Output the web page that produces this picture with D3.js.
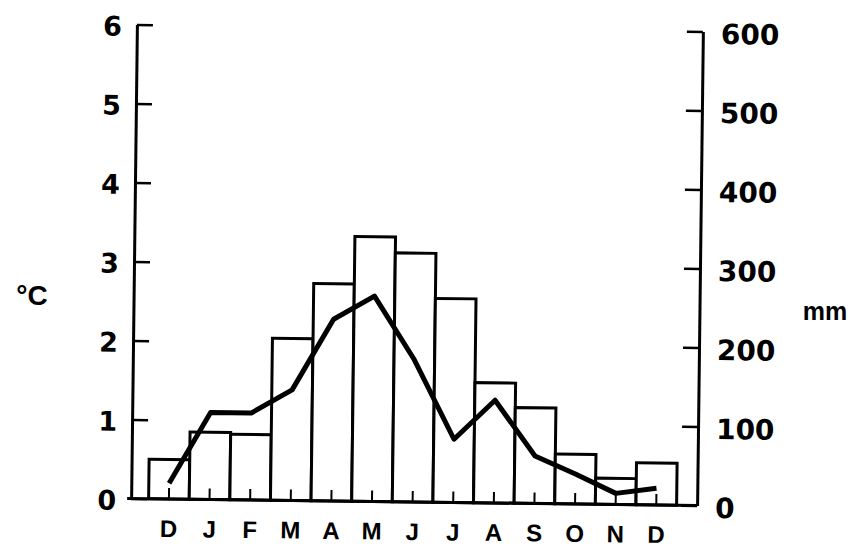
<!DOCTYPE html>
<html>
<head>
<meta charset="utf-8">
<script src="https://cdn.jsdelivr.net/npm/d3@7"></script>
<style>
  html, body { margin: 0; padding: 0; background: #fff; }
  svg { display: block; }
  text { font-weight: bold; fill: #000; }
</style>
</head>
<body>
<svg id="chart" width="855" height="554"></svg>
<script>
// ---- data ----
const months = ["D", "J", "F", "M", "A", "M", "J", "J", "A", "S", "O", "N", "D"];
const precipitation = [50, 85, 83, 205, 275, 335, 315, 258, 152, 121, 63, 33, 53];          // mm (bars)
const temperature = [0.2, 1.1, 1.1, 1.4, 2.3, 2.6, 1.8, 0.8, 1.3, 0.6, 0.38, 0.14, 0.21];   // °C (line)
const tempTicks = [0, 1, 2, 3, 4, 5, 6];
const precipTicks = [0, 100, 200, 300, 400, 500, 600];
const tempUnit = "°C";
const precipUnit = "mm";

// ---- layout ----
const svg = d3.select("#chart");
const L = 134, R = 700, B = 502, T = 28;
const barLeft = 151.5, barRight = 679.5;
const numFont = "'DejaVu Sans', Verdana, sans-serif";
const txtFont = "'Liberation Sans', Arial, sans-serif";

// the scanned original is slightly rotated
const g = svg.append("g").attr("transform", "rotate(0.7, 418, 265)");

const x = d3.scaleBand().domain(d3.range(months.length)).range([barLeft, barRight]).padding(0);
const yT = d3.scaleLinear().domain([0, 6]).range([B, T]);
const yP = d3.scaleLinear().domain([0, 600]).range([B, T]);

// bars
g.append("g").selectAll("rect")
  .data(precipitation)
  .join("rect")
  .attr("x", (d, i) => x(i))
  .attr("width", x.bandwidth())
  .attr("y", d => yP(d))
  .attr("height", d => yP(0) - yP(d))
  .attr("fill", "#fff")
  .attr("stroke", "#000")
  .attr("stroke-width", 3);

// x axis: small upward ticks at month centres + labels
const xAxis = d3.axisBottom(x)
  .tickFormat(i => months[i])
  .tickSize(-11)
  .tickSizeOuter(0)
  .tickPadding(21);
const gx = g.append("g").attr("transform", `translate(0,${B})`).call(xAxis);
gx.select(".domain").remove();
gx.selectAll(".tick line").attr("stroke", "#000").attr("stroke-width", 2);
gx.selectAll(".tick text").style("font-size", "24px").style("font-weight", "bold")
  .style("font-family", txtFont);

// baseline
g.append("line")
  .attr("x1", L - 4).attr("x2", R)
  .attr("y1", B).attr("y2", B)
  .attr("stroke", "#000").attr("stroke-width", 3);

// temperature line
const line = d3.line()
  .x((d, i) => x(i) + x.bandwidth() / 2)
  .y(d => yT(d));
g.append("path")
  .datum(temperature)
  .attr("d", line)
  .attr("fill", "none")
  .attr("stroke", "#000")
  .attr("stroke-width", 5)
  .attr("stroke-linejoin", "round");

// left axis (°C)
const leftAxis = d3.axisLeft(yT).tickValues(tempTicks).tickFormat(d3.format("d"))
  .tickSize(-16).tickSizeOuter(0).tickPadding(15);
const gl = g.append("g").attr("transform", `translate(${L},0)`).call(leftAxis);
gl.select(".domain").attr("stroke", "#000").attr("stroke-width", 3);
gl.selectAll(".tick line").attr("stroke", "#000").attr("stroke-width", 2.5);
gl.selectAll(".tick text").style("font-size", "27px").style("font-weight", "bold")
  .style("font-family", numFont).attr("dy", "0.4em");

// right axis (mm)
const rightAxis = d3.axisRight(yP).tickValues(precipTicks).tickFormat(d3.format("d"))
  .tickSize(-16).tickSizeOuter(0).tickPadding(18);
const gr = g.append("g").attr("transform", `translate(${R},0)`).call(rightAxis);
gr.select(".domain").attr("stroke", "#000").attr("stroke-width", 3);
gr.selectAll(".tick line").attr("stroke", "#000").attr("stroke-width", 2.5);
gr.selectAll(".tick text").style("font-size", "28px").style("font-weight", "bold")
  .style("font-family", numFont).attr("dy", "0.42em");

// unit labels
svg.append("text").attr("x", 32).attr("y", 305).attr("text-anchor", "middle")
  .style("font-size", "28px").style("font-family", txtFont).text(tempUnit);
svg.append("text").attr("x", 825).attr("y", 320).attr("text-anchor", "middle")
  .style("font-size", "25px").style("font-family", txtFont).text(precipUnit);
</script>
</body>
</html>
